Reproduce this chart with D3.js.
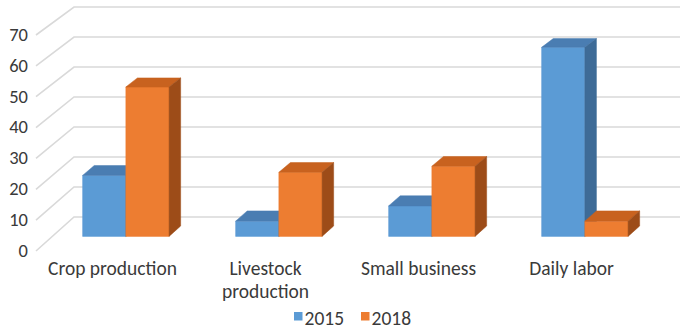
<!DOCTYPE html>
<html>
<head>
<meta charset="utf-8">
<script src="https://cdn.jsdelivr.net/npm/d3@7"></script>
<style>
  body { margin: 0; background: #fff; }
  text { font-family: Carlito, Lato, "Open Sans", sans-serif; fill: #3A3A3A; }
</style>
</head>
<body>
<svg id="chart" width="680" height="331"></svg>
<script>
// Income sources, share of households (%)
const categories = ["Crop production", "Livestock production", "Small business", "Daily labor"];
const categoryLines = [["Crop production"], ["Livestock", "production"], ["Small business"], ["Daily labor"]];
const seriesNames = ["2015", "2018"];
const values2015 = [20, 5, 10, 62];
const values2018 = [49, 21, 23, 5];
const yTicks = [0, 10, 20, 30, 40, 50, 60, 70];

const seriesColors = {
  "2015": { front: "#5B9BD5", top: "#4A7DB2", side: "#3E6B97" },
  "2018": { front: "#ED7D31", top: "#C8621F", side: "#9D4C18" }
};

const svg = d3.select("#chart");

// Floor front edge runs along x; depth z goes 0 (front) .. 1 (back wall)
const x = d3.scaleBand().domain(categories).range([36, 648]);
const depthDX = 38;
const yFront = d3.scaleLinear().domain([0, 70]).range([251, 35]);
const yBack = d3.scaleLinear().domain([0, 70]).range([217, 7]);

function project(px, z, v) {
  return [px + z * depthDX, yFront(v) * (1 - z) + yBack(v) * z];
}

// Gridlines: back wall + left side wall
const grid = svg.append("g").attr("stroke", "#D9D9D9").attr("stroke-width", 1.6).attr("fill", "none");
const x0 = x.range()[0], x1 = x.range()[1];
yTicks.forEach(t => {
  const a = project(x0, 0, t), b = project(x0, 1, t), c = project(x1 + 40, 1, t);
  grid.append("polyline").attr("points", [a, b, c].map(p => p.join(",")).join(" "));
});

// Value axis labels
svg.append("g").selectAll("text").data(yTicks).join("text")
  .attr("x", 28)
  .attr("y", d => yFront(d) + 1.5)
  .attr("text-anchor", "end")
  .attr("dominant-baseline", "middle")
  .attr("font-size", 18.5)
  .text(d => d);

// 3D columns
const groupWidth = x.bandwidth() * 0.565;
const inner = d3.scaleBand().domain(seriesNames).range([0, groupWidth]);
const zFront = 0.43, zRear = 0.735;
const seriesValues = { "2015": values2015, "2018": values2018 };

const bars = svg.append("g");
categories.forEach((cat, i) => {
  const gx = x(cat) + (x.bandwidth() - groupWidth) / 2 - 3;
  seriesNames.forEach(s => {
    const v = seriesValues[s][i];
    const a = gx + inner(s), b = a + inner.bandwidth();
    const col = seriesColors[s];
    const faces = [
      { pts: [[a, zFront, 0], [b, zFront, 0], [b, zFront, v], [a, zFront, v]], fill: col.front },
      { pts: [[a, zFront, v], [b, zFront, v], [b, zRear, v], [a, zRear, v]], fill: col.top },
      { pts: [[b, zFront, 0], [b, zRear, 0], [b, zRear, v], [b, zFront, v]], fill: col.side }
    ];
    faces.forEach(f => {
      bars.append("polygon")
        .attr("points", f.pts.map(p => project(p[0], p[1], p[2]).join(",")).join(" "))
        .attr("fill", f.fill)
        .attr("stroke", f.fill)
        .attr("stroke-width", 0.5);
    });
  });
});

// Category labels
const catG = svg.append("g");
categories.forEach((cat, i) => {
  const cx = x(cat) + x.bandwidth() / 2;
  const t = catG.append("text")
    .attr("x", cx)
    .attr("y", 275)
    .attr("text-anchor", "middle")
    .attr("font-size", 19.5);
  categoryLines[i].forEach((line, j) => {
    t.append("tspan").attr("x", cx).attr("dy", j === 0 ? 0 : 23).text(line);
  });
});

// Legend
const legendX = [294, 361];
const legend = svg.append("g");
seriesNames.forEach((s, i) => {
  legend.append("rect").attr("x", legendX[i]).attr("y", 312).attr("width", 8.5).attr("height", 8.5)
    .attr("fill", seriesColors[s].front);
  legend.append("text").attr("x", legendX[i] + 10.5).attr("y", 324.5).attr("font-size", 19.5).text(s);
});
</script>
</body>
</html>
